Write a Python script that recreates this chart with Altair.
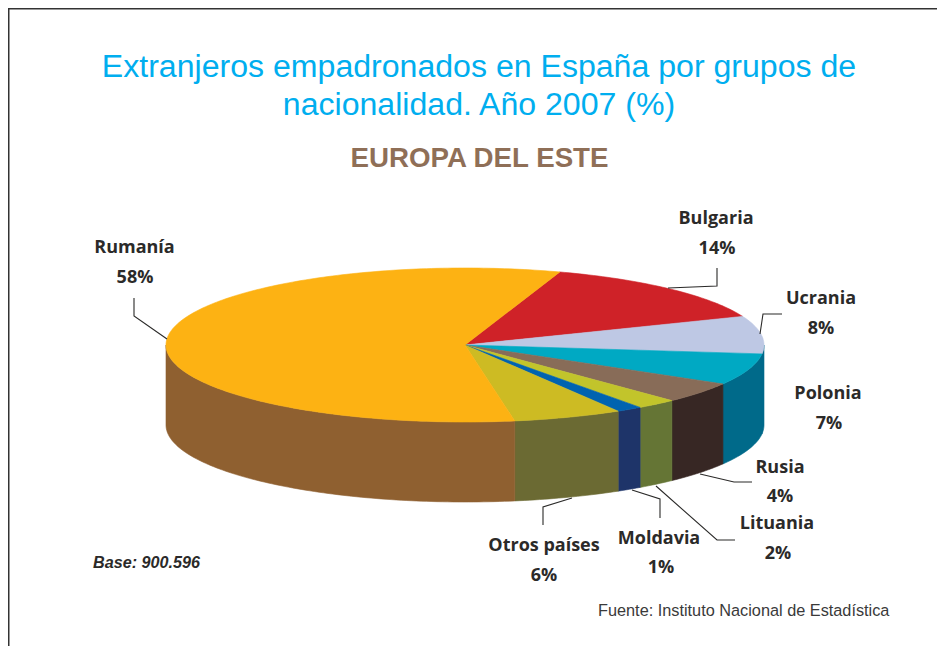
import math
import altair as alt

# ---------- data ----------
names = ["Bulgaria", "Ucrania", "Polonia", "Rusia", "Lituania", "Moldavia", "Otros países", "Rumanía"]
shares = [13.8, 7.9, 6.6, 4.4, 2.2, 1.4, 5.9, 57.8]
pct_labels = ["14%", "8%", "7%", "4%", "2%", "1%", "6%", "58%"]
top_colors = ["#CF2228", "#BEC8E4", "#00A9C3", "#886C58", "#C2C42B", "#0063B0", "#CDBB23", "#FDB213"]
side_colors = ["#CF2228", "#006A8A", "#006A8A", "#372724", "#657535", "#1E3469", "#6B6A33", "#8F6030"]
title_lines = ["Extranjeros empadronados en España por grupos de", "nacionalidad. Año 2007 (%)"]
subtitle = "EUROPA DEL ESTE"
base_note = "Base: 900.596"
source_note = "Fuente: Instituto Nacional de Estadística"

# ---------- layout (page pixels; the chart starts 8px into the page) ----------
W, H = 929, 638
M = 8
CX, CY, RX, RY, DEPTH, START = 465 - M, 345 - M, 299, 77, 80, 18.5
name_pos = [(716, 224), (821, 304), (828, 399), (780, 473), (777, 529), (659, 544), (544, 551), (134.5, 253)]
pct_pos = [(717, 254), (821, 334), (829, 429), (780, 502), (778, 559), (661, 573), (544, 581), (135, 283)]
leaders = [
    [(717, 268), (717, 286), (668, 288)],
    [(782, 314), (763, 314), (760, 334)],
    [],
    [(752, 482), (734, 482), (700, 474)],
    [(735, 540), (717, 540), (656, 486)],
    [(660, 518), (660, 499), (632, 490)],
    [(543, 525), (543, 507), (572, 498)],
    [(134, 298), (134, 316), (167, 339)],
]


def pt(t, dy=0.0):
    a = math.radians(t)
    return [CX + RX * math.sin(a), CY - RY * math.cos(a) + dy]


def arc(t0, t1):
    n = max(2, int(abs(t1 - t0)) + 2)
    return [t0 + (t1 - t0) * i / (n - 1) for i in range(n)]


def feature(name, ring):
    return {"type": "Feature", "geometry": {"type": "Polygon", "coordinates": [ring]},
            "properties": {"name": name}}


top_features, side_features = [], []
angle = START
for name, share in zip(names, shares):
    end = angle + share * 3.6
    ring = [[CX, CY]] + [pt(t) for t in arc(angle, end)] + [[CX, CY]]
    top_features.append(feature(name, ring))
    lo, hi = max(angle, 90), min(end, 270)
    if lo < hi:
        ts = arc(lo, hi)
        side = [pt(t) for t in ts] + [pt(t, DEPTH) for t in reversed(ts)]
        side.append(side[0])
        side_features.append(feature(name, side))
    angle = end


def geo(features, colors):
    return (
        alt.Chart(alt.Data(values=features))
        .mark_geoshape(strokeWidth=0.6)
        .encode(
            color=alt.Color("properties.name:N", scale=alt.Scale(domain=names, range=colors), legend=None),
            stroke=alt.Stroke("properties.name:N", scale=alt.Scale(domain=names, range=colors), legend=None),
        )
        .project(type="identity", scale=1, translate=[0, 0])
    )


leader_rows = []
for name, path in zip(names, leaders):
    for i, (x, y) in enumerate(path):
        leader_rows.append({"name": name, "i": i, "x": x - M, "y": y - M})

leader_layer = (
    alt.Chart(alt.Data(values=leader_rows))
    .mark_line(color="#2B2A29", strokeWidth=1.1)
    .encode(x=alt.X("x:Q", scale=None), y=alt.Y("y:Q", scale=None), detail="name:N", order="i:Q")
)


def text_layer(rows, **style):
    return (
        alt.Chart(alt.Data(values=rows))
        .mark_text(**style)
        .encode(x=alt.X("x:Q", scale=None), y=alt.Y("y:Q", scale=None), text="t:N")
    )


label_rows = [{"t": t, "x": p[0] - M, "y": p[1] - M} for t, p in zip(names + pct_labels, name_pos + pct_pos)]
labels = text_layer(label_rows, font="Open Sans", fontWeight="bold", fontSize=18, color="#2B2A29",
                    align="center", baseline="alphabetic")
title = text_layer(
    [{"t": title_lines[0], "x": 479 - M, "y": 77 - M}, {"t": title_lines[1], "x": 479 - M, "y": 115 - M}],
    font="Liberation Sans", fontSize=32.1, color="#00AEEF", align="center", baseline="alphabetic")
sub = text_layer([{"t": subtitle, "x": 479.5 - M, "y": 167 - M}],
                 font="Liberation Sans", fontWeight="bold", fontSize=27.7, color="#8F6F57",
                 align="center", baseline="alphabetic")
base = text_layer([{"t": base_note, "x": 93 - M, "y": 568 - M}],
                  font="Liberation Sans", fontWeight="bold", fontStyle="italic", fontSize=16.2, color="#2B2A29",
                  align="left", baseline="alphabetic")
source = text_layer([{"t": source_note, "x": 598 - M, "y": 616 - M}],
                    font="Liberation Sans", fontSize=16.3, color="#3A3A3A", align="left", baseline="alphabetic")

frame_top = alt.Chart(alt.Data(values=[{"a": 0}])).mark_rule(color="#333333", strokeWidth=1.5).encode(
    x=alt.value(0), x2=alt.value(W), y=alt.value(0.75))
frame_left = alt.Chart(alt.Data(values=[{"a": 0}])).mark_rule(color="#333333", strokeWidth=1.5).encode(
    y=alt.value(0), y2=alt.value(H), x=alt.value(0.75))

chart = (
    alt.layer(frame_top, frame_left, geo(side_features, side_colors), geo(top_features, top_colors),
              leader_layer, labels, title, sub, base, source)
    .resolve_scale(color="independent", stroke="independent")
    .properties(width=W, height=H, padding=0, autosize=alt.AutoSizeParams(type="none"),
                background="white")
    .configure_view(stroke=None)
)
chart.save("out.html", embed_options={"renderer": "svg", "actions": False})
